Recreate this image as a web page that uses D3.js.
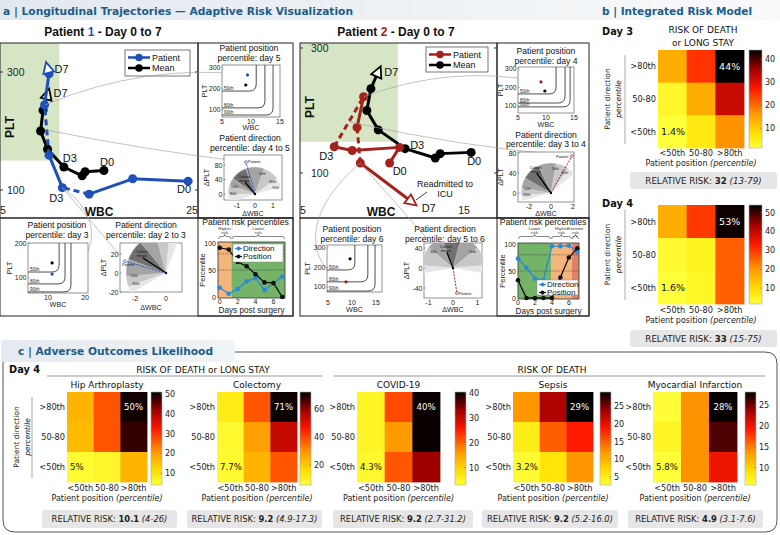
<!DOCTYPE html>
<html><head><meta charset="utf-8">
<script src="https://cdn.jsdelivr.net/npm/d3@7/dist/d3.min.js"></script>
<style>html,body{margin:0;padding:0;background:#fff;}svg{display:block;}</style>
</head><body>
<svg id="fig" width="780" height="535"></svg>
<script>
// ================= DATA =================
const days = [0,1,2,3,4,5,6,7];
const meanWBC = [15.5,13.6,13.3,11.45,9.8,9.1,9.35,9.8];
const meanPLT = [133,131,124,139,169,200,235,262];
const p1WBC = [24.0,18.4,14.0,11.3,9.95,9.5,9.95,9.8];
const p1PLT = [115,119,93,104,159,244,297,307];
const p1Dashed = [false,false,true,false,true,false,false];
const p2WBC = [10.5,11.1,8.2,7.1,8.9,8.5,8.7,11.85];
const p2PLT = [116,141,136,142,222,173,116,54];
const p2Dashed = [false,false,false,true,false,true,false];
const normalWBC = [5, 11];
const normalPLT = [150, 400];

const p1Direction = [17,6,15,29,35,13,25,38];
const p1Position  = [91,88,65,57,42,27,26,0];
const p2Direction = [73,56,36,33,96,96,97,86];
const p2Position  = [33,0,0,0,0,38,75,92];
const dayTicks = [0,2,4,6];
const pctTicks = [0,50,100];
const pctThresholds = [50,80];

const rowLabels = [">80th","50-80","<50th"];
const colLabels = ["<50th","50-80",">80th"];
const day3Risk = [[14,25,44],[3,14,32],[1.4,6,17]];
const day4Risk = [[17,30,53],[3,5,26],[1.6,4,26]];
const hipRisk = [[17,27,50],[16,27,48],[5,6,17]];
const colectomyRisk = [[12,38,71],[8,28,54],[7.7,24,38]];
const covidRisk = [[5,22,40],[5,16,40],[4.3,21,33]];
const sepsisRisk = [[12,23,29],[5,15,18.5],[3.2,6,12]];
const miRisk = [[6,14,28],[7,14,26],[5.8,14,20]];
const surgeries = ["Hip Arthroplasty","Colectomy","COVID-19","Sepsis","Myocardial Infarction"];
const relRisk = [32,33,10.1,9.2,9.2,9.2,4.9];
const relCI = ["13-79","15-75","4-26","4.9-17.3","2.7-31.2","5.2-16.0","3.1-7.6"];

// inset data
const p1PosDay5 = {patient:[9.4,267], mean:[9.1,219]};
const p1PosDay3 = {patient:[11.1,111], mean:[11.1,143]};
const p2PosDay4 = {patient:[9.1,230], mean:[9.8,181]};
const p2PosDay6 = {patient:[8.75,126], mean:[9.6,244]};
const p1Contours5 = [["50th",190,10.9],["80th",110,12.4],["90th",76,13.8]];
const p1Contours3 = [["50th",117,13.0],["80th",83,14.6],["90th",60,16.2]];
const p2Contours4 = [["50th",165,11.8],["80th",116,13.4],["90th",95,14.3]];
const p2Contours6 = [["50th",187,10.6],["80th",126,13.3],["90th",79,14.8]];
const p1Dir45 = {patient:[-0.5,88], mean:[-0.55,33], fan:[[15,200],[35,180],[70,160],[110,145]]};
const p1Dir23 = {patient:[-2.65,12.4], mean:[-1.5,16], fan:[[70,210],[85,200],[105,185],[130,160]]};
const p2Dir34 = {patient:[1.9,74], mean:[-1.3,40], fan:[[40,195],[55,185],[80,170],[115,150]]};
const p2Dir56 = {patient:[0.16,-50], mean:[-0.25,32], fan:[[-10,190],[5,175],[40,140],[75,110]]};

// ================= HELPERS =================
const AF = '"Liberation Sans", Arial, Helvetica, sans-serif';
const VF = '"DejaVu Sans", Verdana, sans-serif';
const HDR = "#1d5c8a";
const P1C = "#1f4fb8", P2C = "#a3221c", DIRC = "#2b8ad8";
const svg = d3.select("#fig");
const defs = svg.append("defs");

function txt(g, x, y, s, size, o={}) {
  const t = g.append("text").attr("x",x).attr("y",y).text(s)
    .attr("font-size",size).attr("font-family",o.font||AF)
    .attr("fill",o.fill||"#111").attr("text-anchor",o.anchor||"start");
  if (o.weight) t.attr("font-weight",o.weight);
  if (o.style) t.attr("font-style",o.style);
  if (o.rotate) t.attr("transform",`rotate(${o.rotate},${x},${y})`);
  if (o.len) t.attr("textLength",o.len).attr("lengthAdjust","spacingAndGlyphs");
  return t;
}
const heatStops = [[0,"#ffff3a"],[0.15,"#ffe000"],[0.35,"#ff9a00"],[0.6,"#ff1a00"],[0.8,"#a00000"],[1,"#000000"]];
const heat = d3.scaleLinear().domain(heatStops.map(d=>d[0])).range(heatStops.map(d=>d[1])).interpolate(d3.interpolateRgb).clamp(true);

const hg = defs.append("linearGradient").attr("id","hdrGrad");
hg.append("stop").attr("offset","0%").attr("stop-color","#e2e9ee");
hg.append("stop").attr("offset","100%").attr("stop-color","#f8f9fa");
const cbg = defs.append("linearGradient").attr("id","cbGrad").attr("x1",0).attr("y1",1).attr("x2",0).attr("y2",0);
d3.range(0,1.0001,0.05).forEach(s => cbg.append("stop").attr("offset",s).attr("stop-color",heat(s)));

// ================= HEADERS =================
svg.append("rect").attr("x",0).attr("y",0).attr("width",780).attr("height",20).attr("fill","url(#hdrGrad)");
txt(svg,3,14.5,"a | Longitudinal Trajectories — Adaptive Risk Visualization",10.5,{font:VF,weight:"bold",fill:HDR,len:350});
txt(svg,602,14.5,"b | Integrated Risk Model",10.5,{font:VF,weight:"bold",fill:HDR,len:150});

// ================= MAIN TRAJECTORY PLOTS =================
let clipN = 0;
function clipRect(x,y,w,h){ const id="cl"+(clipN++); defs.append("clipPath").attr("id",id).append("rect").attr("x",x).attr("y",y).attr("width",w).attr("height",h); return "url(#"+id+")"; }

function drawTraj(g, xs, ys, wbc, plt, color, dashed) {
  const pts = wbc.map((w,i)=>[xs(w), ys(plt[i])]);
  for (let i=0;i<pts.length-1;i++) {
    g.append("line").attr("x1",pts[i][0]).attr("y1",pts[i][1]).attr("x2",pts[i+1][0]).attr("y2",pts[i+1][1])
      .attr("stroke",color).attr("stroke-width",3).attr("stroke-dasharray", dashed && dashed[i] ? "6,4" : null);
  }
  pts.slice(0,-1).forEach(p => g.append("circle").attr("cx",p[0]).attr("cy",p[1]).attr("r",4.5).attr("fill",color));
  const a = pts[pts.length-2], b = pts[pts.length-1];
  const dx=b[0]-a[0], dy=b[1]-a[1], L=Math.hypot(dx,dy), ux=dx/L, uy=dy/L, nx=-uy, ny=ux;
  const tri = [[b[0]+ux*6,b[1]+uy*6],[b[0]-ux*5+nx*5.5,b[1]-uy*5+ny*5.5],[b[0]-ux*5-nx*5.5,b[1]-uy*5-ny*5.5]];
  g.append("path").attr("d","M"+tri.map(p=>p.join(",")).join("L")+"Z").attr("fill","#fff").attr("stroke",color).attr("stroke-width",1.8);
  return pts;
}

function mainPlot(c) {
  const g = svg.append("g");
  const b = c.box;
  const xs = d3.scaleLinear().domain(c.xDomain).range(c.xRange);
  const ys = d3.scaleLinear().domain([100,300]).range(c.yRange);
  const inner = g.append("g").attr("clip-path", clipRect(b.x,b.y,b.w,b.h));
  const gx0 = Math.max(b.x, xs(normalWBC[0])), gx1 = xs(normalWBC[1]);
  const gy0 = Math.max(b.y, ys(normalPLT[1])), gy1 = ys(normalPLT[0]);
  inner.append("rect").attr("x",gx0).attr("y",gy0).attr("width",gx1-gx0).attr("height",gy1-gy0).attr("fill","#d6e6c4");
  const mp = drawTraj(inner, xs, ys, meanWBC, meanPLT, "#000", null);
  const pp = drawTraj(inner, xs, ys, c.wbc, c.plt, c.color, c.dashed);
  g.append("rect").attr("x",b.x).attr("y",b.y).attr("width",b.w).attr("height",b.h).attr("fill","none").attr("stroke","#222").attr("stroke-width",1);
  [100,300].forEach(v => {
    g.append("line").attr("x1",b.x).attr("x2",b.x+3).attr("y1",ys(v)).attr("y2",ys(v)).attr("stroke","#333");
    g.append("line").attr("x1",b.x+b.w-3).attr("x2",b.x+b.w).attr("y1",ys(v)).attr("y2",ys(v)).attr("stroke","#333");
    txt(g, b.x+c.yTickDX, ys(v)+3.6, v, 10.5, {fill:"#222"});
  });
  c.xTicks.forEach((v,i) => txt(g, xs(v)+c.xTickDX[i], b.y+b.h-4, v, 10.5, {anchor:"middle",fill:"#222"}));
  txt(g, c.wbcLab[0], c.wbcLab[1], "WBC", 12, {anchor:"middle",weight:"bold"});
  txt(g, c.pltLab[0], c.pltLab[1], "PLT", 12, {anchor:"middle",weight:"bold",rotate:-90});
  c.pLabels.forEach(l => txt(g, pp[l[0]][0]+l[1], pp[l[0]][1]+l[2], "D"+days[l[0]], 11, {fill:"#111"}));
  c.mLabels.forEach(l => txt(g, mp[l[0]][0]+l[1], mp[l[0]][1]+l[2], "D"+days[l[0]], 11, {fill:"#111"}));
  const lg = c.legend;
  g.append("rect").attr("x",lg.x).attr("y",lg.y).attr("width",lg.w).attr("height",lg.h).attr("fill","#fff").attr("stroke","#555").attr("stroke-width",0.8);
  [["Patient",c.color],["Mean","#000"]].forEach((e,i)=>{
    const yy = lg.y+7.5+i*10.5;
    g.append("line").attr("x1",lg.x+3).attr("x2",lg.x+25).attr("y1",yy).attr("y2",yy).attr("stroke",e[1]).attr("stroke-width",2.5);
    g.append("circle").attr("cx",lg.x+14).attr("cy",yy).attr("r",3.8).attr("fill",e[1]);
    txt(g, lg.x+27, yy+3.2, e[0], 9, {fill:"#111"});
  });
  const tt = g.append("text").attr("x",c.title[0]).attr("y",c.title[1]).attr("text-anchor","middle").attr("font-family",AF).attr("font-size",12).attr("font-weight","bold").attr("fill","#111");
  tt.append("tspan").text("Patient ");
  tt.append("tspan").attr("fill",c.color).text(c.num);
  tt.append("tspan").text(" - Day 0 to 7");
  return {xs, ys, pp, mp};
}

// ================= INSETS =================
function positionInset(c) {
  const g = svg.append("g");
  const b = c.box;
  const xs = d3.scaleLinear().domain(c.xDomain).range([b.x,b.x+b.w]);
  const ys = d3.scaleLinear().domain(c.yDomain).range([b.y+b.h,b.y]);
  g.append("rect").attr("x",b.x).attr("y",b.y).attr("width",b.w).attr("height",b.h).attr("fill","#fff").attr("stroke","#666").attr("stroke-width",0.7);
  c.contours.forEach(ct => {
    const yh = ys(ct[1]), xv = xs(ct[2]);
    const r = Math.max(0, Math.min(7, xv-b.x-2, yh-b.y-2));
    g.append("path").attr("d",`M${b.x},${yh}L${xv-r},${yh}Q${xv},${yh} ${xv},${yh-r}L${xv},${b.y}`)
      .attr("fill","none").attr("stroke","#222").attr("stroke-width",0.8);
    txt(g, b.x+2, yh-1.3, ct[0], 4.8, {fill:"#222"});
  });
  g.append("circle").attr("cx",xs(c.dots.mean[0])).attr("cy",ys(c.dots.mean[1])).attr("r",1.6).attr("fill","#000");
  g.append("circle").attr("cx",xs(c.dots.patient[0])).attr("cy",ys(c.dots.patient[1])).attr("r",1.6).attr("fill",c.color);
  c.xTicks.forEach(v => txt(g, xs(v), c.xTickY, v, 7, {anchor:"middle",fill:"#222"}));
  c.yTicks.forEach(v => {
    txt(g, b.x-1.5, ys(v)+2.5, v, 7, {anchor:"end",fill:"#222"});
    g.append("line").attr("x1",b.x).attr("x2",b.x+1.5).attr("y1",ys(v)).attr("y2",ys(v)).attr("stroke","#444").attr("stroke-width",0.5);
  });
  txt(g, b.x+b.w/2, c.xLabY, "WBC", 7.2, {anchor:"middle",fill:"#222"});
  txt(g, c.yLabX, b.y+b.h/2, "PLT", 7.2, {anchor:"middle",fill:"#222",rotate:-90});
  c.title.forEach((t,k) => txt(g, c.titleX, c.titleY+k*9.5, t, 8.6, {anchor:"middle",fill:"#111"}));
  return {xs, ys};
}

function directionInset(c) {
  const g = svg.append("g");
  const b = c.box;
  const xs = d3.scaleLinear().domain(c.xDomain).range([b.x,b.x+b.w]);
  const ys = d3.scaleLinear().domain(c.yDomain).range([b.y+b.h,b.y]);
  g.append("rect").attr("x",b.x).attr("y",b.y).attr("width",b.w).attr("height",b.h).attr("fill","#fff").attr("stroke","#666").attr("stroke-width",0.7);
  const inner = g.append("g").attr("clip-path", clipRect(b.x,b.y,b.w,b.h));
  const ox = xs(0), oy = ys(0);
  const shades = ["#e6e6e6","#c8c8c8","#a4a4a4","#707070"];
  const names = ["90th","80th","50th"];
  c.data.fan.forEach((f,i) => {
    const arc = d3.arc().innerRadius(0).outerRadius(c.r).startAngle((90-f[1])*Math.PI/180).endAngle((90-f[0])*Math.PI/180);
    inner.append("path").attr("d",arc()).attr("transform",`translate(${ox},${oy})`).attr("fill",shades[i]).attr("stroke","#fff").attr("stroke-width",0.3);
    if (i<3) f.forEach(a => {
      const rr = c.r*0.8, ang = a*Math.PI/180;
      const lx = ox+rr*Math.cos(ang), ly = oy-rr*Math.sin(ang)+1;
      if (lx > b.x+5 && lx < b.x+b.w-5 && ly > b.y+4 && ly < b.y+b.h-3)
        txt(inner, lx, ly, names[i], 3.6, {anchor:"middle",fill:"#222"});
    });
  });
  const mx = xs(c.data.mean[0]), my = ys(c.data.mean[1]);
  inner.append("line").attr("x1",ox).attr("y1",oy).attr("x2",mx).attr("y2",my).attr("stroke","#000").attr("stroke-width",1.3);
  txt(inner, mx-1, my-4.5, "Cohort", 4, {anchor:"middle",fill:"#111"});
  txt(inner, mx-1, my-0.5, "mean", 4, {anchor:"middle",fill:"#111"});
  const px = xs(c.data.patient[0]), py = ys(c.data.patient[1]);
  inner.append("line").attr("x1",ox).attr("y1",oy).attr("x2",px).attr("y2",py).attr("stroke",c.color).attr("stroke-width",1).attr("stroke-dasharray","2,1.2");
  inner.append("circle").attr("cx",px).attr("cy",py).attr("r",1.4).attr("fill","#fff").attr("stroke",c.color).attr("stroke-width",0.7);
  txt(inner, px+c.patLab[0], py+c.patLab[1], "Patient", 4, {fill:"#111"});
  inner.append("circle").attr("cx",ox).attr("cy",oy).attr("r",1.2).attr("fill","#000");
  c.xTicks.forEach(v => txt(g, xs(v), c.xTickY, v, 7, {anchor:"middle",fill:"#222"}));
  c.yTicks.forEach(v => {
    txt(g, b.x-1.5, ys(v)+2.5, v, 7, {anchor:"end",fill:"#222"});
    g.append("line").attr("x1",b.x).attr("x2",b.x+1.5).attr("y1",ys(v)).attr("y2",ys(v)).attr("stroke","#444").attr("stroke-width",0.5);
  });
  txt(g, b.x+b.w/2, c.xLabY, "ΔWBC", 7.2, {anchor:"middle",fill:"#222"});
  txt(g, c.yLabX, b.y+b.h/2, "ΔPLT", 7.2, {anchor:"middle",fill:"#222",rotate:-90});
  c.title.forEach((t,k) => txt(g, c.titleX, c.titleY+k*9.5, t, 8.6, {anchor:"middle",fill:"#111"}));
  return {xs, ys};
}

function riskPlot(c) {
  const g = svg.append("g");
  const xs = d3.scaleLinear().domain(c.xDomain).range(c.xRange);
  const ys = d3.scaleLinear().domain([0,100]).range([c.y0,c.y100]);
  const top = ys(100)-1, bot = ys(0)+1;
  c.bands.forEach(bd => {
    const x0 = xs(bd.from), x1 = xs(bd.to), mx=(x0+x1)/2;
    g.append("rect").attr("x",x0).attr("y",top).attr("width",x1-x0).attr("height",bot-top).attr("fill",bd.color);
    bd.label.forEach((l,k) => txt(g, mx, c.labY+k*4.4, l, 4.4, {anchor:"middle",fill:"#333"}));
    const yb = c.labY+6.5;
    g.append("path").attr("d",`M${x0+0.5},${yb+2.5}Q${x0+0.5},${yb} ${x0+3},${yb}L${mx-2},${yb}Q${mx},${yb} ${mx},${yb-2}Q${mx},${yb} ${mx+2},${yb}L${x1-3},${yb}Q${x1-0.5},${yb} ${x1-0.5},${yb+2.5}`)
      .attr("fill","none").attr("stroke","#333").attr("stroke-width",0.6);
  });
  pctThresholds.forEach(v => g.append("line").attr("x1",c.xRange[0]).attr("x2",c.xRange[1]).attr("y1",ys(v)).attr("y2",ys(v)).attr("stroke","#333").attr("stroke-width",0.6).attr("stroke-dasharray","1.2,1.2"));
  g.append("rect").attr("x",c.xRange[0]).attr("y",top).attr("width",c.xRange[1]-c.xRange[0]).attr("height",bot-top).attr("fill","none").attr("stroke","#333").attr("stroke-width",0.8);
  [[c.direction,DIRC],[c.position,"#111"]].forEach(s => {
    const line = d3.line().x((d,i)=>xs(days[i])).y(d=>ys(d));
    g.append("path").attr("d",line(s[0])).attr("fill","none").attr("stroke",s[1]).attr("stroke-width",1.3);
    s[0].forEach((d,i)=> g.append("circle").attr("cx",xs(days[i])).attr("cy",ys(d)).attr("r",2.3).attr("fill",s[1]));
  });
  pctTicks.forEach(v => txt(g, c.xRange[0]-2, ys(v)+2.5, v, 7, {anchor:"end",fill:"#222"}));
  dayTicks.forEach(v => txt(g, xs(v), c.y0+6.8, v, 7, {anchor:"middle",fill:"#222"}));
  txt(g, (c.xRange[0]+c.xRange[1])/2, c.y0+16, "Days post surgery", 8.2, {anchor:"middle",fill:"#222"});
  txt(g, c.percX, (c.y0+c.y100)/2, "Percentile", 7.5, {anchor:"middle",fill:"#222",rotate:-90});
  txt(g, c.titleX, 225, "Patient risk percentiles", 8.6, {anchor:"middle",fill:"#111"});
  const lg = c.legend;
  g.append("rect").attr("x",lg.x).attr("y",lg.y).attr("width",lg.w).attr("height",lg.h).attr("fill","#fff").attr("stroke","#888").attr("stroke-width",0.5);
  [["Direction",DIRC],["Position","#111"]].forEach((e,i)=>{
    const yy = lg.y+4.5+i*8;
    g.append("line").attr("x1",lg.x+2).attr("x2",lg.x+9).attr("y1",yy).attr("y2",yy).attr("stroke",e[1]).attr("stroke-width",1.2);
    g.append("circle").attr("cx",lg.x+5.5).attr("cy",yy).attr("r",2).attr("fill",e[1]);
    txt(g, lg.x+10, yy+2.8, e[0], 8, {fill:"#111"});
  });
}

// ---------- Patient 1 ----------
const m1 = mainPlot({box:{x:0,y:43,w:198,h:175}, xDomain:[5,25], xRange:[0,198], yRange:[190,72],
  wbc:p1WBC, plt:p1PLT, dashed:p1Dashed, color:P1C, num:"1", title:[103,36],
  xTicks:[5,25], xTickDX:[3,-6], yTickDX:7, wbcLab:[99,216], pltLab:[14,127],
  pLabels:[[7,7,5],[3,-13,14],[0,-11,12]], mLabels:[[7,6,3],[3,-1,-5],[0,-4,-5]],
  legend:{x:125,y:50,w:65,h:26}});
const m2 = mainPlot({box:{x:300,y:43,w:197,h:175}, xDomain:[5,15], xRange:[300,463], yRange:[173,48],
  wbc:p2WBC, plt:p2PLT, dashed:p2Dashed, color:P2C, num:"2", title:[396,36],
  xTicks:[5,15], xTickDX:[3,1], yTickDX:11, wbcLab:[381,216], pltLab:[314,107],
  pLabels:[[7,10,10],[3,-15,13],[0,3,12]], mLabels:[[7,6,4],[3,5,0],[0,-4,13]],
  legend:{x:426,y:47,w:62,h:25}});
txt(svg,445,187,"Readmitted to",9,{anchor:"middle"});
txt(svg,445,197,"ICU",9,{anchor:"middle"});
svg.append("line").attr("x1",427).attr("y1",192).attr("x2",416).attr("y2",200).attr("stroke","#111").attr("stroke-width",0.8);

[[198,43,95,175],[0,218,293,98],[198,218,95,98],[497,43,92,175],[300,218,289,98],[497,218,92,98]].forEach(r=>
  svg.append("rect").attr("x",r[0]).attr("y",r[1]).attr("width",r[2]).attr("height",r[3]).attr("fill","none").attr("stroke","#222").attr("stroke-width",1));

const conn = svg.append("g").attr("fill","none").attr("stroke","#9a9a9a").attr("stroke-width",0.6);

const i1a = positionInset({box:{x:222,y:65,w:58,h:52}, xDomain:[5,15], yDomain:[66.7,314], xTicks:[5,10,15], yTicks:[100,200,300],
  contours:p1Contours5, dots:p1PosDay5, color:P1C, xTickY:123.5, xLabY:130, yLabX:207, titleX:249, title:["Patient position","percentile: day 5"], titleY:51});
const i1b = directionInset({box:{x:224,y:155,w:58,h:45}, xDomain:[-1.72,1.5], yDomain:[-16.5,107.6], xTicks:[-1,0,1], yTicks:[0,40,80],
  data:p1Dir45, r:27, color:P1C, patLab:[2,1], xTickY:208, xLabY:216, yLabX:209, titleX:250, title:["Patient direction","percentile: day 4 to 5"], titleY:141});
const i1c = positionInset({box:{x:28,y:243,w:60,h:50}, xDomain:[4.6,20.8], yDomain:[57,200], xTicks:[10,20], yTicks:[100,200],
  contours:p1Contours3, dots:p1PosDay3, color:P1C, xTickY:299.5, xLabY:307, yLabX:12, titleX:57, title:["Patient position","percentile: day 3"], titleY:228});
const i1d = directionInset({box:{x:120,y:243,w:62,h:49}, xDomain:[-2.97,1.03], yDomain:[-20,31.6], xTicks:[-2,0], yTicks:[-20,0,20],
  data:p1Dir23, r:40, color:P1C, patLab:[-3,5], xTickY:301, xLabY:310, yLabX:106, titleX:146, title:["Patient direction","percentile: day 2 to 3"], titleY:228});
riskPlot({xDomain:[-0.2,7.3], xRange:[218,285], y0:297, y100:243, direction:p1Direction, position:p1Position,
  bands:[{from:-0.2,to:1.3,color:"#f4b57c",label:["Higher","risk"]},{from:1.3,to:7.3,color:"#74b368",label:["Lower","risk"]}],
  labY:230, percX:205, titleX:245.5, legend:{x:233,y:244,w:50,h:18}});

const i2a = positionInset({box:{x:518,y:67,w:56,h:46}, xDomain:[5,15], yDomain:[62,310.8], xTicks:[5,10,15], yTicks:[100,200,300],
  contours:p2Contours4, dots:p2PosDay4, color:P2C, xTickY:119.5, xLabY:126.5, yLabX:503, titleX:546, title:["Patient position","percentile: day 4"], titleY:54});
const i2b = directionInset({box:{x:518,y:152,w:56,h:50}, xDomain:[-3,2.09], yDomain:[-18,82], xTicks:[-2,0,2], yTicks:[0,40,80],
  data:p2Dir34, r:30, color:P2C, patLab:[-16,2], xTickY:208.5, xLabY:216, yLabX:503, titleX:546, title:["Patient direction","percentile: day 3 to 4"], titleY:137.5});
const i2c = positionInset({box:{x:327,y:245,w:55,h:47}, xDomain:[4.8,16.25], yDomain:[74,315], xTicks:[5,10,15], yTicks:[100,200,300],
  contours:p2Contours6, dots:p2PosDay6, color:P2C, xTickY:305, xLabY:312, yLabX:310, titleX:352, title:["Patient position","percentile: day 6"], titleY:232});
const i2d = directionInset({box:{x:424,y:243,w:58,h:55}, xDomain:[-1.18,1.18], yDomain:[-60,50], xTicks:[-1,0,1], yTicks:[-40,0,40],
  data:p2Dir56, r:32, color:P2C, patLab:[2,1.5], xTickY:305, xLabY:312, yLabX:409, titleX:445, title:["Patient direction","percentile: day 5 to 6"], titleY:232});
riskPlot({xDomain:[0,7.2], xRange:[518,579], y0:298, y100:244, direction:p2Direction, position:p2Position,
  bands:[{from:0,to:3.9,color:"#74b368",label:["Lower","risk"]},{from:3.9,to:6.35,color:"#f4b57c",label:["Higher","risk"]},{from:6.35,to:7.2,color:"#e08268",label:["Extreme","risk"]}],
  labY:230, percX:505, titleX:543, legend:{x:537,y:280,w:41,h:15}});

function curve(a,b,dy){ const cx=(a[0]+b[0])/2, cy=Math.min(a[1],b[1])+dy; return `M${a[0]},${a[1]}Q${cx},${cy} ${b[0]},${b[1]}`; }
conn.append("path").attr("d",curve(m1.pp[5],[i1a.xs(p1PosDay5.patient[0]),i1a.ys(p1PosDay5.patient[1])],-12));
conn.append("path").attr("d",curve([(m1.pp[4][0]+m1.pp[5][0])/2,(m1.pp[4][1]+m1.pp[5][1])/2],[i1b.xs(p1Dir45.patient[0]),i1b.ys(p1Dir45.patient[1])],20));
{ const a=m1.pp[3], b=[i1c.xs(p1PosDay3.patient[0]),i1c.ys(p1PosDay3.patient[1])];
  conn.append("path").attr("d",`M${a[0]},${a[1]}C${a[0]+45},${a[1]+30} ${a[0]+35},${b[1]-5} ${b[0]},${b[1]}`);
  conn.append("path").attr("d",`M${a[0]},${a[1]}L${i1d.xs(p1Dir23.patient[0])},${i1d.ys(p1Dir23.patient[1])}`); }
conn.append("path").attr("d",curve(m2.pp[4],[i2a.xs(p2PosDay4.patient[0]),i2a.ys(p2PosDay4.patient[1])],-18));
conn.append("path").attr("d",curve([(m2.pp[3][0]+m2.pp[4][0])/2,(m2.pp[3][1]+m2.pp[4][1])/2],[i2b.xs(p2Dir34.patient[0]),i2b.ys(p2Dir34.patient[1])],25));
{ const a=m2.pp[6], b=[i2c.xs(p2PosDay6.patient[0]),i2c.ys(p2PosDay6.patient[1])];
  conn.append("path").attr("d",`M${a[0]},${a[1]}C${a[0]-70},${a[1]+60} ${b[0]-30},${b[1]-10} ${b[0]},${b[1]}`);
  conn.append("path").attr("d",`M${a[0]},${a[1]}L${i2d.xs(0)},${i2d.ys(0)}`); }

// ================= HEATMAPS =================
function heatmap(c) {
  const g = svg.append("g");
  const xb = d3.scaleBand().domain(colLabels).range([c.x,c.x+c.w]);
  const yb = d3.scaleBand().domain(rowLabels).range([c.y,c.y+c.h]);
  const tn = d3.scaleLinear().domain(c.cb).range([0,1]).clamp(true);
  c.values.forEach((row,i)=>row.forEach((v,j)=>{
    g.append("rect").attr("x",xb(colLabels[j])).attr("y",yb(rowLabels[i])).attr("width",xb.bandwidth()+0.4).attr("height",yb.bandwidth()+0.4).attr("fill",heat(tn(v)));
  }));
  txt(g, xb(colLabels[2])+xb.bandwidth()/2, yb(rowLabels[0])+yb.bandwidth()/2+3.4, c.values[0][2]+"%", c.pct, {font:VF,fill:"#fff",anchor:"middle"});
  txt(g, xb(colLabels[0])+3, yb(rowLabels[2])+yb.bandwidth()/2+3.4, c.values[2][0]+"%", c.pct, {font:VF,fill:"#111"});
  rowLabels.forEach(r => txt(g, c.x-2, yb(r)+yb.bandwidth()/2+3, r, 8.2, {font:VF,anchor:"end",fill:"#222"}));
  colLabels.forEach(l => txt(g, xb(l)+xb.bandwidth()/2, c.colY, l, 8.2, {font:VF,anchor:"middle",fill:"#222"}));
  const pl = g.append("text").attr("x",c.x+c.w/2).attr("y",c.colY+9.5).attr("text-anchor","middle").attr("font-family",VF).attr("font-size",8).attr("fill","#222");
  pl.append("tspan").text("Patient position ");
  pl.append("tspan").attr("font-style","italic").text("(percentile)");
  g.append("rect").attr("x",c.cbX).attr("y",c.y).attr("width",c.cbW).attr("height",c.cbH).attr("fill","url(#cbGrad)").attr("stroke","#aaa").attr("stroke-width",0.6);
  const cy = d3.scaleLinear().domain(c.cb).range([c.y+c.cbH,c.y]);
  c.ticks.forEach(v => {
    g.append("line").attr("x1",c.cbX+c.cbW-2).attr("x2",c.cbX+c.cbW).attr("y1",cy(v)).attr("y2",cy(v)).attr("stroke","#666").attr("stroke-width",0.5);
    txt(g, c.cbX+c.cbW+3, cy(v)+3, v, 8, {font:VF,fill:"#222"});
  });
  if (c.dirLab) {
    const d = c.dirLab, mid = c.y+c.h/2;
    g.append("line").attr("x1",d[2]).attr("x2",d[2]).attr("y1",c.y+5).attr("y2",c.y+c.h-4).attr("stroke","#aaa").attr("stroke-width",1);
    txt(g, d[0], mid, "Patient direction", 7.5, {font:VF,anchor:"middle",fill:"#222",rotate:-90});
    txt(g, d[1], mid, "percentile", 7.5, {font:VF,anchor:"middle",fill:"#222",rotate:-90,style:"italic"});
  }
  if (c.title) txt(g, c.x+c.w/2, c.y-4.5, c.title, 9, {font:VF,anchor:"middle",fill:"#111"});
  const r = c.rr;
  g.append("rect").attr("x",r[0]).attr("y",r[1]).attr("width",r[2]).attr("height",r[3]).attr("rx",3).attr("fill","#e6e6e6");
  const t = g.append("text").attr("x",r[0]+r[2]/2).attr("y",r[1]+r[3]/2+3).attr("text-anchor","middle").attr("font-family",VF).attr("font-size",c.rrSize).attr("fill","#222");
  t.append("tspan").text("RELATIVE RISK: ");
  t.append("tspan").attr("font-weight","bold").text(relRisk[c.idx]);
  t.append("tspan").attr("font-style","italic").text(" ("+relCI[c.idx]+")");
}

// Panel b
txt(svg,602,35,"Day 3",9.8,{font:VF,weight:"bold"});
txt(svg,703,33,"RISK OF DEATH",9,{font:VF,anchor:"middle"});
txt(svg,703,46,"or LONG STAY",9,{font:VF,anchor:"middle"});
heatmap({values:day3Risk, x:658,y:50,w:86,h:98, cbX:749,cbW:13,cbH:98, cb:[1.4,44], ticks:[10,20,30,40], pct:9.5, colY:156, dirLab:[610,621,625], rr:[630,172,147,17], rrSize:8.7, idx:0});
txt(svg,602,207,"Day 4",9.8,{font:VF,weight:"bold"});
heatmap({values:day4Risk, x:658,y:205,w:86,h:99, cbX:749,cbW:13,cbH:99, cb:[1.6,54], ticks:[10,20,30,40,50], pct:9.5, colY:313, dirLab:[610,621,625], rr:[630,330,147,17], rrSize:8.7, idx:1});

// Panel c
svg.append("path").attr("d","M15,352L765,352Q777,352 777,364L777,520Q777,532 765,532L15,532Q3,532 3,520L3,364Q3,352 15,352Z").attr("fill","none").attr("stroke","#555").attr("stroke-width",1);
const cg = defs.append("linearGradient").attr("id","cGrad");
cg.append("stop").attr("offset","0%").attr("stop-color","#e4eaef");
cg.append("stop").attr("offset","100%").attr("stop-color","#f1f4f6");
svg.append("rect").attr("x",1).attr("y",340).attr("width",234).attr("height",22).attr("rx",3).attr("fill","url(#cGrad)");
txt(svg,18,355,"c | Adverse Outcomes Likelihood",10.5,{font:VF,weight:"bold",fill:HDR,len:195});
txt(svg,9,373,"Day 4",9.8,{font:VF,weight:"bold"});
txt(svg,203,373,"RISK OF DEATH or LONG STAY",9,{font:VF,anchor:"middle"});
txt(svg,552,373,"RISK OF DEATH",9,{font:VF,anchor:"middle"});
svg.append("line").attr("x1",47).attr("x2",322).attr("y1",376).attr("y2",376).attr("stroke","#999").attr("stroke-width",1);
svg.append("line").attr("x1",334).attr("x2",765).attr("y1",376).attr("y2",376).attr("stroke","#999").attr("stroke-width",1);
const cGeom = [
  {values:hipRisk, x:67, w:80, cbX:151, cb:[4,51], ticks:[10,20,30,40,50], rr:[42,510,135,18], dirLab:[19,30,32]},
  {values:colectomyRisk, x:217, w:80, cbX:300, cb:[6,72], ticks:[20,40,60], rr:[187,510,135,18]},
  {values:covidRisk, x:357, w:83, cbX:455, cb:[3,40.4], ticks:[10,20,30,40], rr:[333,510,140,18]},
  {values:sepsisRisk, x:513, w:80, cbX:600, cb:[2.7,29], ticks:[5,10,15,20,25], rr:[482,510,136,18]},
  {values:miRisk, x:653, w:84, cbX:745, cb:[5.8,28.2], ticks:[10,15,20,25], rr:[628,510,135,18]}
];
cGeom.forEach((c,i)=> heatmap(Object.assign({y:392,h:90,cbW:11,cbH:93,pct:8.6,colY:491,title:surgeries[i],idx:i+2,rrSize:8.4},c)));
</script>
</body></html>
